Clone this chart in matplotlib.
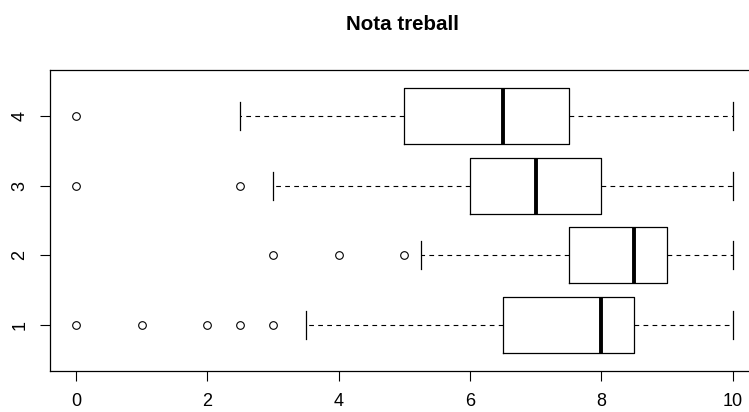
import matplotlib
matplotlib.use("Agg")
import matplotlib.pyplot as plt

plt.rcParams['font.family'] = ['Liberation Sans', 'DejaVu Sans']
plt.rcParams['lines.scale_dashes'] = False

groups = ["1", "2", "3", "4"]
whisker_lo = [3.5, 5.25, 3.0, 2.5]
q1 = [6.5, 7.5, 6.0, 5.0]
median = [8.0, 8.5, 7.0, 6.5]
q3 = [8.5, 9.0, 8.0, 7.5]
whisker_hi = [10.0, 10.0, 10.0, 10.0]
outliers = [
    [0, 1, 2, 2.5, 3],
    [3, 4, 5],
    [0, 2.5],
    [0],
]
x_ticks = [0, 2, 4, 6, 8, 10]

stats = []
for i, g in enumerate(groups):
    stats.append(dict(label=g, whislo=whisker_lo[i], q1=q1[i], med=median[i],
                      q3=q3[i], whishi=whisker_hi[i], fliers=outliers[i]))

fig = plt.figure(figsize=(7.49, 4.12), dpi=100)
ax = fig.add_axes([49.7 / 749, 41 / 412, 709.3 / 749, 301 / 412])

ax.bxp(stats, positions=[1, 2, 3, 4], vert=False, widths=0.8,
       capwidths=0.4, patch_artist=False,
       boxprops=dict(color='black', linewidth=0.9),
       medianprops=dict(color='black', linewidth=2.8, solid_capstyle='butt'),
       whiskerprops=dict(color='black', linewidth=0.8, linestyle=(0, (3.4, 3.1))),
       capprops=dict(color='black', linewidth=0.9),
       flierprops=dict(marker='o', markersize=5.5, markerfacecolor='none',
                       markeredgecolor='black', markeredgewidth=0.8,
                       linestyle='none'))

ax.set_xlim(-0.4, 10.4)
ax.set_ylim(0.34, 4.66)
ax.set_xticks(x_ticks)
ax.set_xticklabels([str(t) for t in x_ticks])
ax.set_yticks([1, 2, 3, 4])
ax.set_yticklabels(groups, rotation=90, va='center')
ax.tick_params(axis='both', direction='out', length=7.5, width=0.8,
               labelsize=13, color='black')
ax.tick_params(axis='x', pad=8.5)
ax.tick_params(axis='y', pad=8)
for s in ax.spines.values():
    s.set_linewidth(0.9)
    s.set_color('black')

fig.text(402 / 749, 1 - 25 / 412, "Nota treball", ha='center', va='center',
         fontsize=14.8, fontweight='bold')

fig.savefig("out.png", dpi=100)
